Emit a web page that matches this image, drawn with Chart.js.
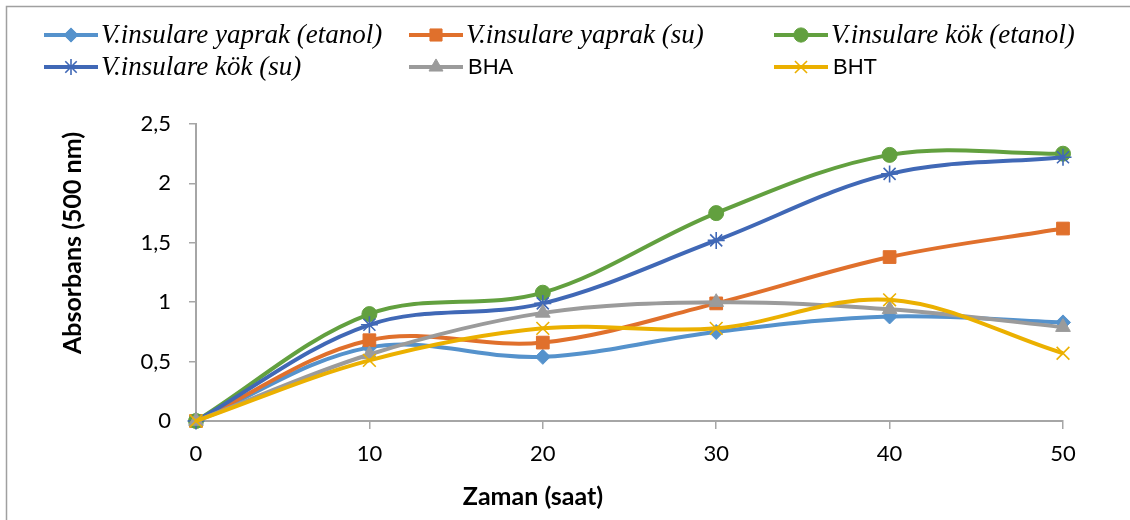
<!DOCTYPE html>
<html>
<head>
<meta charset="utf-8">
<script src="https://cdn.jsdelivr.net/npm/chart.js@4/dist/chart.umd.min.js"></script>
<style>
html,body{margin:0;padding:0;background:#fff;}
#wrap{width:1130px;height:520px;position:relative;}
</style>
</head>
<body>
<div id="wrap"><canvas id="c"></canvas></div>
<script>
const categories = ['0', '10', '20', '30', '40', '50'];
const seriesNames = [
  'V.insulare yaprak (etanol)',
  'V.insulare yaprak (su)',
  'V.insulare kök (etanol)',
  'V.insulare kök (su)',
  'BHA',
  'BHT'
];
const yaprakEtanol = [0, 0.62, 0.54, 0.75, 0.88, 0.83];
const yaprakSu     = [0, 0.68, 0.66, 0.99, 1.38, 1.62];
const kokEtanol    = [0, 0.90, 1.08, 1.75, 2.24, 2.25];
const kokSu        = [0, 0.81, 0.99, 1.52, 2.08, 2.22];
const bha          = [0, 0.56, 0.91, 1.00, 0.94, 0.79];
const bht          = [0, 0.51, 0.78, 0.78, 1.02, 0.57];
const yMin = 0, yMax = 2.5, yStep = 0.5;
const xTitle = 'Zaman (saat)';
const yTitle = 'Absorbans (500 nm)';

const colors = ['#5592CC', '#E0702C', '#62A03F', '#4068B6', '#9B9B9B', '#EBB000'];
const styles = ['rectRot', 'rect', 'circle', 'star', 'triangle', 'crossRot'];
const radii  = [7.5, 9, 7.5, 8.5, 8.5, 9];
const italicSeries = [true, true, true, true, false, false];
const allData = [yaprakEtanol, yaprakSu, kokEtanol, kokSu, bha, bht];

const datasets = allData.map((d, i) => ({
  label: seriesNames[i],
  data: d,
  borderColor: colors[i],
  backgroundColor: colors[i],
  pointBackgroundColor: colors[i],
  pointBorderColor: colors[i],
  pointStyle: styles[i],
  pointRadius: radii[i],
  pointBorderWidth: (styles[i] === 'star' || styles[i] === 'crossRot') ? 1.6 : 1,
  borderWidth: 4,
  tension: 0.35,
  fill: false,
  order: allData.length - i,
  clip: false
}));

const axisColor = '#A6A6A6';

const decor = {
  id: 'decor',
  beforeDraw(chart) {
    const ctx = chart.ctx;
    ctx.save();
    ctx.strokeStyle = '#A0A0A0';
    ctx.lineWidth = 1.5;
    ctx.beginPath();
    ctx.moveTo(6.5, 520);
    ctx.lineTo(6.5, 6.5);
    ctx.lineTo(1130, 6.5);
    ctx.stroke();
    ctx.restore();
  },
  afterDraw(chart) {
    const ctx = chart.ctx;
    ctx.save();
    // legend
    const colX = [44, 409, 774];
    const rowY = [35, 67];
    const lineLen = 54;
    const hasDraw = Chart.helpers && Chart.helpers.drawPoint;
    chart.data.datasets.forEach((ds, i) => {
      const cx = colX[i % 3];
      const cy = rowY[Math.floor(i / 3)];
      ctx.strokeStyle = ds.borderColor;
      ctx.lineWidth = 4;
      ctx.lineCap = 'butt';
      ctx.beginPath();
      ctx.moveTo(cx, cy);
      ctx.lineTo(cx + lineLen, cy);
      ctx.stroke();
      if (hasDraw) {
        ctx.fillStyle = ds.pointBackgroundColor;
        ctx.strokeStyle = ds.pointBorderColor;
        ctx.lineWidth = ds.pointBorderWidth;
        Chart.helpers.drawPoint(ctx, {pointStyle: ds.pointStyle, radius: ds.pointRadius * 0.95, rotation: 0, borderWidth: ds.pointBorderWidth}, cx + lineLen / 2, cy);
      }
      ctx.fillStyle = '#000';
      ctx.textBaseline = 'middle';
      ctx.textAlign = 'left';
      if (italicSeries[i]) {
        ctx.font = 'italic 27px "Liberation Serif", "DejaVu Serif", serif';
        ctx.fillText(ds.label, cx + lineLen + 3, cy + 1);
      } else {
        ctx.font = '22px "Liberation Sans", Arial, sans-serif';
        ctx.fillText(ds.label, cx + lineLen + 5, cy + 1);
      }
    });
    // axis titles
    ctx.fillStyle = '#000';
    ctx.font = 'bold 25px Lato, "Open Sans", sans-serif';
    ctx.textAlign = 'center';
    ctx.textBaseline = 'middle';
    ctx.fillText(xTitle, 533, 497);
    ctx.translate(73, 243);
    ctx.rotate(-Math.PI / 2);
    ctx.fillText(yTitle, 0, 0);
    ctx.restore();
  }
};

new Chart(document.getElementById('c'), {
  type: 'line',
  data: { labels: categories, datasets: datasets },
  options: {
    responsive: true,
    maintainAspectRatio: false,
    animation: false,
    events: [],
    layout: { padding: { top: 124, right: 67, bottom: 0, left: 0 } },
    plugins: { legend: { display: false }, tooltip: { enabled: false }, title: { display: false } },
    scales: {
      x: {
        type: 'category',
        offset: false,
        grid: { drawOnChartArea: false, drawTicks: true, tickLength: 8, color: axisColor, lineWidth: 1.5 },
        border: { color: axisColor, width: 2 },
        ticks: { color: '#000', font: { family: 'Lato, "Open Sans", sans-serif', size: 22 }, padding: 12, maxRotation: 0 },
        afterFit(scale) { scale.height = 99; }
      },
      y: {
        min: yMin,
        max: yMax,
        grid: { drawOnChartArea: false, drawTicks: true, tickLength: 7, color: axisColor, lineWidth: 1.5 },
        border: { color: axisColor, width: 2 },
        ticks: {
          stepSize: yStep,
          color: '#000',
          font: { family: 'Lato, "Open Sans", sans-serif', size: 22 },
          padding: 18,
          callback: (v) => String(v).replace('.', ',')
        },
        afterFit(scale) { scale.width = 196; }
      }
    }
  },
  plugins: [decor]
});
</script>
</body>
</html>
